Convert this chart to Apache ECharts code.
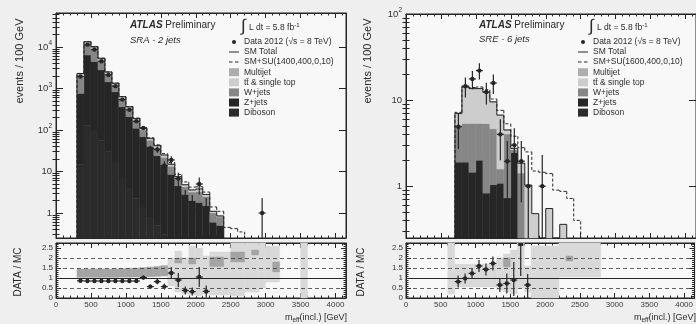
<!DOCTYPE html>
<html><head><meta charset="utf-8">
<script src="https://cdn.jsdelivr.net/npm/echarts@6/dist/echarts.min.js"></script>
<style>html,body{margin:0;padding:0;background:#efefef}#c{width:696px;height:324px}</style>
</head><body><div id="c"></div>
<script>
// ================= DATA =================
const BIN_WIDTH = 100;
const X_TICKS = [0, 500, 1000, 1500, 2000, 2500, 3000, 3500, 4000];
const LOG_LABELS = [1, 10, 100, 1000, 10000];
const RATIO_LABELS = [0, 0.5, 1, 1.5, 2, 2.5];

// ---- Left: SRA - 2 jets ----
const sraBinLo    = [300,400,500,600,700,800,900,1000,1100,1200,1300,1400,1500,1600,1700,1800,1900,2000,2100,2200,2300];
const sraDiboson  = [15,130,90,55,30,17,7,4,2.2,1.4,0.8,0.5,0.3,0.2,0.1,0.1,0.05,0.05,0.05,0.02,0.02];
const sraZjets    = [745,6270,4360,2745,1420,818,355,205,108,67.6,39.2,23.5,13.7,8.3,4.4,2.7,1.95,1.75,1.45,0.58,0.48];
const sraWjets    = [1150,5300,4400,1950,800,380,210,115,60,31,17,13.5,8,4.9,2.3,1.5,1.2,1.5,1.0,0.4,0.3];
const sraTop      = [300,1400,1100,480,200,100,50,30,16,8,4.7,3.5,2.3,1.3,0.6,0.4,0.3,0.4,0.25,0.08,0.04];
const sraMultijet = [90,300,250,120,50,25,13,8,4,2,1.3,1,0.7,0.3,0.1,0.1,0.1,0.1,0.05,0.02,0.01];
const sraSigBinLo = [300,400,500,600,700,800,900,1000,1100,1200,1300,1400,1500,1600,1700,1800,1900,2000,2100,2200,2300,2400,2500,2600];
const sraSmSu     = [2310,13420,10220,5370,2515,1350,642,367,194,113,65,44,27,16.5,8.5,5.6,4.2,4.3,3.2,1.4,1.1,0.45,0.42,0.35];
const sraDataX     = [350,450,550,650,750,850,950,1050,1150,1250,1350,1450,1550,1650,1750,1850,1950,2050,2150,2950];
const sraDataY     = [1950,11400,8700,4550,2130,1140,540,308,162,112,36,34,14,19,6.8,1.8,1.2,5.0,1.0,1.0];
const sraDataErrLo = [44,107,93,67,46,34,23,18,13,11,6,5.8,3.7,4.4,2.6,1.3,1.1,2.2,0.83,0.83];
const sraDataErrHi = [44,107,93,67,46,34,23,18,13,11,6,5.8,3.7,4.4,2.6,1.8,1.5,2.2,1.3,1.3];
const sraRatioX   = [350,450,550,650,750,850,950,1050,1150,1250,1350,1450,1550,1650,1750,1850,1950,2050,2150];
const sraRatioY   = [0.86,0.85,0.85,0.85,0.85,0.85,0.85,0.85,0.85,1.02,0.57,0.82,0.57,1.25,0.9,0.38,0.32,1.05,0.33];
const sraRatioErr = [0.03,0.02,0.02,0.02,0.02,0.03,0.04,0.05,0.07,0.1,0.1,0.13,0.15,0.3,0.35,0.2,0.2,0.5,0.3];
// ratio-panel bands (x from, x to, ratio from, ratio to)
const sraLightX0 = [1600,1700,1800,1900,2000,2100,2200,2500,2700,2900,3000,3500];
const sraLightX1 = [1700,1800,1900,2000,2100,2200,2500,2700,2900,3000,3200,3600];
const sraLightY0 = [0.6,0.3,0.2,0.15,0.1,0.2,0.15,0.1,0.3,0.5,0.8,0];
const sraLightY1 = [2.0,2.35,2.0,2.6,2.5,2.1,2.3,2.75,2.75,2.75,2.6,2.75];
const sraMidX0 = [300,400,500,600,700,800,900,1000,1100,1200,1300,1400,1500,1700,1900,2200,2500,2800,3100];
const sraMidX1 = [400,500,600,700,800,900,1000,1100,1200,1300,1400,1500,1600,1800,2000,2400,2700,2900,3200];
const sraMidY0 = [1.03,1.03,1.03,1.03,1.03,1.03,1.04,1.04,1.05,1.05,1.06,1.08,1.1,1.75,1.7,1.57,1.8,2.15,1.3];
const sraMidY1 = [1.45,1.45,1.45,1.45,1.45,1.46,1.47,1.48,1.5,1.52,1.55,1.58,1.62,2.0,2.0,2.05,2.3,2.4,1.8];

// ---- Right: SRE - 6 jets ----
const sreBinLo    = [700,800,900,1000,1100,1200,1300,1400,1500,1600,1700,1800,1900,2000,2100,2200];
const sreDiboson  = [0.05,0.05,0.05,0.05,0.05,0.04,0.03,0.03,0.05,0.02,0.01,0,0,0,0,0];
const sreZjets    = [1.85,1.85,1.4,1.95,0.78,1.0,1.05,0.7,2.4,0.2,0,0,0,0,0,0];
const sreWjets    = [3.2,3.45,3.9,3.35,4.5,3.6,0.5,3.3,0.2,1.2,0.2,0,0,0,0,0];
const sreTop      = [1.8,8.7,8.1,8.1,6.9,4.8,5.0,0.42,0.08,0.4,0.8,0.48,0,0.55,0,0.36];
const sreMultijet = [0.1,0.15,0.15,0.15,0.15,0.1,0.12,0.05,0.02,0.03,0.02,0,0,0,0,0];
const sreSigBinLo = [700,800,900,1000,1100,1200,1300,1400,1500,1600,1700,1800,1900,2000,2100,2200,2300,2400];
const sreSmSu     = [7.2,14.5,14.0,14.2,13.2,10.3,7.6,5.3,3.8,2.8,2.5,1.5,1.45,1.4,0.9,0.87,0.72,0.4];
const sreDataX     = [750,850,950,1050,1150,1250,1350,1450,1550,1650,1750,1950];
const sreDataY     = [4.9,14.5,17.6,22,12.4,15.8,4.0,1.95,3.0,1.95,1.0,1.0];
const sreDataErrLo = [2.2,3.8,4.2,4.7,3.5,4.0,2.0,1.3,1.7,1.3,0.83,0.83];
const sreDataErrHi = [2.2,3.8,4.2,4.7,3.5,4.0,2.0,1.4,1.7,1.4,1.3,1.3];
const sreRatioX     = [750,850,950,1050,1150,1250,1350,1450,1550,1650,1750];
const sreRatioY     = [0.82,0.98,1.23,1.6,1.43,1.73,0.65,0.73,0.9,2.9,0.65];
const sreRatioErrLo = [0.3,0.25,0.25,0.3,0.3,0.35,0.35,0.5,0.8,1.8,0.65];
const sreRatioErrHi = [0.3,0.25,0.25,0.3,0.3,0.35,0.35,0.5,0.9,1.0,0.55];
const sreLightX0 = [600,700,1300,1400,1500,1600,1700,1800,2200];
const sreLightX1 = [700,1300,1400,1500,1600,1700,1800,2200,2800];
const sreLightY0 = [0.2,0.55,0.4,0.3,0.2,0.5,0.3,0.0,1.05];
const sreLightY1 = [2.75,1.7,2.0,2.2,2.4,2.75,1.6,2.6,2.75];
const sreMidX0 = [1400,2300];
const sreMidX1 = [1500,2400];
const sreMidY0 = [1.55,1.85];
const sreMidY1 = [2.0,2.1];

// ================= STYLE =================
const INK = '#262626';
const FONT = '"Liberation Sans", Arial, sans-serif';
const FLOOR = 1e-3;
const COL = { Diboson:'#2b2b2b', 'Z+jets':'#262626', 'W+jets':'#868686', top:'#cdcdcd', Multijet:'#adadad', light:'#d9d9d9', mid:'#a4a4a4' };
const N_DATA = 'Data 2012 (\u221As = 8 TeV)';
const N_TOP = 't\u0074\u0304 & single top';

// ================= HELPERS =================
function stackItems(binLo, comps) {
  const out = comps.map(() => []);
  binLo.forEach((lo, i) => {
    let acc = 0;
    comps.forEach((c, k) => {
      const v = c[i];
      if (v > 0) { const b = acc > 0 ? acc : FLOOR; acc += v; out[k].push([lo, lo + BIN_WIDTH, b, acc]); }
    });
  });
  return out;
}
function totals(binLo, comps) { return binLo.map((_, i) => comps.reduce((s, c) => s + c[i], 0)); }
function outlineData(binLo, tot) {
  return binLo.map((lo, i) => [lo, lo + BIN_WIDTH, tot[i] > 0 ? tot[i] : FLOOR,
    (i > 0 && tot[i-1] > 0) ? tot[i-1] : FLOOR, i === binLo.length - 1 ? 1 : 0]);
}
function rectRenderer(color) {
  return function (params, api) {
    const a = api.coord([api.value(0), api.value(3)]);
    const b = api.coord([api.value(1), api.value(2)]);
    const r = echarts.graphic.clipRectByRect({ x: a[0], y: a[1], width: b[0] - a[0], height: b[1] - a[1] }, params.coordSys);
    if (!r) return null;
    return { type: 'rect', shape: r, style: { fill: color, stroke: color, lineWidth: 0.4 } };
  };
}
function outlineRenderer(dash, width) {
  return function (params, api) {
    const lo = api.value(0), hi = api.value(1), t = api.value(2), pt = api.value(3), last = api.value(4);
    const pts = [api.coord([lo, pt]), api.coord([lo, t]), api.coord([hi, t])];
    if (last) pts.push(api.coord([hi, FLOOR]));
    const c = echarts.graphic.clipPointsByRect(pts, params.coordSys);
    return { type: 'polyline', shape: { points: c }, style: { stroke: INK, lineWidth: width, lineDash: dash, fill: null } };
  };
}
function pointRenderer(floor, r) {
  return function (params, api) {
    const x = api.value(0), y = api.value(1), el = api.value(2), eh = api.value(3);
    const cs = params.coordSys;
    const v = echarts.graphic.clipPointsByRect([api.coord([x, y + eh]), api.coord([x, Math.max(y - el, floor)])], cs);
    const h = echarts.graphic.clipPointsByRect([api.coord([x - BIN_WIDTH / 2, y]), api.coord([x + BIN_WIDTH / 2, y])], cs);
    const c = api.coord([x, y]);
    const kids = [{ type: 'line', shape: { x1: v[0][0], y1: v[0][1], x2: v[1][0], y2: v[1][1] }, style: { stroke: INK, lineWidth: 1.2 } }];
    if (c[1] >= cs.y && c[1] <= cs.y + cs.height) {
      kids.push({ type: 'line', shape: { x1: h[0][0], y1: h[0][1], x2: h[1][0], y2: h[1][1] }, style: { stroke: INK, lineWidth: 1.2 } });
      kids.push({ type: 'circle', shape: { cx: c[0], cy: c[1], r: r }, style: { fill: INK } });
    } else {
      kids.push({ type: 'rect', shape: { x: c[0] - 2.5, y: cs.y, width: 5, height: 3 }, style: { fill: INK } });
    }
    return { type: 'group', children: kids };
  };
}
function zip(...arrs) { return arrs[0].map((_, i) => arrs.map(a => a[i])); }
function minorLogTicks(min, max) {
  const out = [];
  for (let e = -1; e <= 5; e++) for (let m = 2; m <= 9; m++) { const v = m * Math.pow(10, e); if (v > min && v < max) out.push(v); }
  return out;
}
function logFmt(v) {
  const e = Math.round(Math.log10(v));
  if (e === 0) return '1';
  if (e === 1) return '10';
  return '10{s|' + e + '}';
}

// ================= AXES =================
const grids = [
  { left: 56, top: 13, width: 290, height: 225 },
  { left: 56, top: 243, width: 290, height: 55 },
  { left: 406, top: 14, width: 290, height: 224 },
  { left: 406, top: 243, width: 290, height: 55 }
].map(g => Object.assign(g, { show: true, backgroundColor: '#f8f8f8', borderColor: INK, borderWidth: 1 }));

const xAxes = [];
[0, 1, 2, 3].forEach(g => {
  ['bottom', 'top'].forEach(pos => {
    xAxes.push({
      type: 'value', gridIndex: g, position: pos, min: 0, max: 4150, interval: 500,
      axisLine: { show: true, onZero: false, lineStyle: { color: INK, width: 1 } },
      axisTick: { show: true, inside: true, length: 5, lineStyle: { color: INK }, customValues: X_TICKS },
      minorTick: { show: true, splitNumber: 5, length: 2.5, lineStyle: { color: INK } },
      axisLabel: { show: pos === 'bottom' && (g === 1 || g === 3), customValues: X_TICKS, fontSize: 8, color: '#3a3a3a', margin: 3, fontFamily: FONT,
        formatter: v => String(v) },
      splitLine: { show: false }
    });
  });
});

const yAxes = [];
const yIdx = {};
function logAxes(g, min, max) {
  yIdx[g] = yAxes.length;
  const minors = minorLogTicks(min, max);
  const decades = LOG_LABELS.filter(v => v >= min && v <= max);
  ['left', 'right'].forEach(pos => {
    yAxes.push({
      type: 'log', logBase: 10, gridIndex: g, position: pos, min: min, max: max,
      axisLine: { show: true, onZero: false, lineStyle: { color: INK } },
      axisTick: { show: true, inside: true, length: 7, customValues: decades, lineStyle: { color: INK } },
      axisLabel: { show: pos === 'left', customValues: decades, formatter: logFmt, fontSize: 9.5, color: '#333', fontFamily: FONT, margin: 4,
        rich: { s: { fontSize: 6.5, padding: [0, 0, 7, 0], fontFamily: FONT, color: '#333' } } },
      splitLine: { show: false }
    });
    yAxes.push({
      type: 'log', logBase: 10, gridIndex: g, position: pos, min: min, max: max,
      axisLine: { show: false },
      axisTick: { show: true, inside: true, length: 3.5, customValues: minors, lineStyle: { color: INK } },
      axisLabel: { show: false }, splitLine: { show: false }
    });
  });
}
function ratioAxes(g) {
  yIdx[g] = yAxes.length;
  ['left', 'right'].forEach(pos => {
    yAxes.push({
      type: 'value', gridIndex: g, position: pos, min: 0, max: 2.75, interval: 0.5,
      axisLine: { show: true, onZero: false, lineStyle: { color: INK } },
      axisTick: { show: true, inside: true, length: 5, customValues: RATIO_LABELS, lineStyle: { color: INK } },
      minorTick: { show: true, splitNumber: 5, length: 2.5, lineStyle: { color: INK } },
      axisLabel: { show: pos === 'left', customValues: RATIO_LABELS, fontSize: 8, color: '#333', fontFamily: FONT, margin: 3 },
      splitLine: { show: false }
    });
  });
}
logAxes(0, 0.25, 66000);
ratioAxes(1);
logAxes(2, 0.25, 100);
ratioAxes(3);

// ================= SERIES =================
const series = [];
function mainPanel(g, binLo, comps, sigLo, smsu, sigName, dx, dy, dlo, dhi) {
  const names = ['Diboson', 'Z+jets', 'W+jets', N_TOP, 'Multijet'];
  const colors = [COL.Diboson, COL['Z+jets'], COL['W+jets'], COL.top, COL.Multijet];
  const st = stackItems(binLo, comps);
  st.forEach((items, k) => series.push({
    type: 'custom', name: names[k], xAxisIndex: 2 * g, yAxisIndex: yIdx[g], z: 2,
    itemStyle: { color: colors[k] }, renderItem: rectRenderer(colors[k]), data: items,
    encode: { x: [0, 1], y: [2, 3] }, silent: true
  }));
  series.push({ type: 'custom', name: 'SM Total', xAxisIndex: 2 * g, yAxisIndex: yIdx[g], z: 3, itemStyle: { color: INK },
    renderItem: outlineRenderer(null, 1), data: outlineData(binLo, totals(binLo, comps)), encode: { x: [0, 1], y: [2, 3] }, silent: true });
  series.push({ type: 'custom', name: sigName, xAxisIndex: 2 * g, yAxisIndex: yIdx[g], z: 3, itemStyle: { color: INK },
    renderItem: outlineRenderer([3, 2], 1), data: outlineData(sigLo, smsu), encode: { x: [0, 1], y: [2, 3] }, silent: true });
  series.push({ type: 'custom', name: N_DATA, xAxisIndex: 2 * g, yAxisIndex: yIdx[g], z: 4, itemStyle: { color: INK },
    renderItem: pointRenderer(FLOOR, 2.2), data: zip(dx, dy, dlo, dhi), encode: { x: 0, y: 1 }, silent: true });
}
function ratioPanel(g, lx0, lx1, ly0, ly1, mx0, mx1, my0, my1, rx, ry, rlo, rhi) {
  series.push({ type: 'custom', name: 'ratio-light', xAxisIndex: 2 * g, yAxisIndex: yIdx[g], z: 2,
    renderItem: rectRenderer(COL.light), data: zip(lx0, lx1, ly0, ly1), encode: { x: [0, 1], y: [2, 3] }, silent: true });
  series.push({ type: 'custom', name: 'ratio-mid', xAxisIndex: 2 * g, yAxisIndex: yIdx[g], z: 2,
    renderItem: rectRenderer(COL.mid), data: zip(mx0, mx1, my0, my1), encode: { x: [0, 1], y: [2, 3] }, silent: true });
  series.push({ type: 'line', name: 'ratio-lines', xAxisIndex: 2 * g, yAxisIndex: yIdx[g], data: [], z: 3, silent: true,
    markLine: { silent: true, symbol: 'none', label: { show: false }, animation: false,
      lineStyle: { color: '#3a3a3a', width: 0.8, type: [4, 3] },
      data: [{ yAxis: 0.5 }, { yAxis: 1.5 }, { yAxis: 2 }, { yAxis: 1, lineStyle: { type: 'solid', width: 1, color: INK } }] } });
  series.push({ type: 'custom', name: 'ratio-data', xAxisIndex: 2 * g, yAxisIndex: yIdx[g], z: 4,
    renderItem: pointRenderer(0, 2.2), data: zip(rx, ry, rlo, rhi), encode: { x: 0, y: 1 }, silent: true });
}
mainPanel(0, sraBinLo, [sraDiboson, sraZjets, sraWjets, sraTop, sraMultijet], sraSigBinLo, sraSmSu, 'SM+SU(1400,400,0,10)',
  sraDataX, sraDataY, sraDataErrLo, sraDataErrHi);
ratioPanel(1, sraLightX0, sraLightX1, sraLightY0, sraLightY1, sraMidX0, sraMidX1, sraMidY0, sraMidY1,
  sraRatioX, sraRatioY, sraRatioErr, sraRatioErr);
mainPanel(2, sreBinLo, [sreDiboson, sreZjets, sreWjets, sreTop, sreMultijet], sreSigBinLo, sreSmSu, 'SM+SU(1600,400,0,10)',
  sreDataX, sreDataY, sreDataErrLo, sreDataErrHi);
ratioPanel(3, sreLightX0, sreLightX1, sreLightY0, sreLightY1, sreMidX0, sreMidX1, sreMidY0, sreMidY1,
  sreRatioX, sreRatioY, sreRatioErrLo, sreRatioErrHi);

// ================= LEGENDS =================
const ICON_DOT = 'path://M0,0M10,8M3,4a2,2 0 1 0 4,0a2,2 0 1 0 -4,0Z';
const ICON_LINE = 'path://M0,0M10,8M0,3.5L10,3.5L10,4.5L0,4.5Z';
const ICON_DASH = 'path://M0,0M10,8M0,3.5L3.5,3.5L3.5,4.5L0,4.5ZM6,3.5L9.5,3.5L9.5,4.5L6,4.5Z';
function legendDef(left, sigName) {
  return {
    left: left, top: 37, padding: 0, orient: 'vertical', itemWidth: 10, itemHeight: 8, itemGap: 0.3, selectedMode: false,
    textStyle: { fontSize: 8.5, lineHeight: 9.8, color: '#2e2e2e', fontFamily: FONT },
    data: [
      { name: N_DATA, icon: ICON_DOT, itemStyle: { color: INK } },
      { name: 'SM Total', icon: ICON_LINE, itemStyle: { color: INK } },
      { name: sigName, icon: ICON_DASH, itemStyle: { color: INK } },
      { name: 'Multijet', icon: 'rect', itemStyle: { color: COL.Multijet } },
      { name: N_TOP, icon: 'rect', itemStyle: { color: COL.top } },
      { name: 'W+jets', icon: 'rect', itemStyle: { color: COL['W+jets'] } },
      { name: 'Z+jets', icon: 'rect', itemStyle: { color: COL['Z+jets'] } },
      { name: 'Diboson', icon: 'rect', itemStyle: { color: COL.Diboson } }
    ]
  };
}

// ================= TEXT =================
function txt(x, y, text, o) {
  return { type: 'text', x: x, y: y, style: Object.assign({ text: text, fill: '#2a2a2a', fontFamily: FONT, fontSize: 9, verticalAlign: 'middle' }, o || {}) };
}
function rot(x, y, text, size) {
  return { type: 'text', x: x, y: y, rotation: Math.PI / 2,
    style: { text: text, fill: '#2a2a2a', fontFamily: FONT, fontSize: size, align: 'center', verticalAlign: 'middle' } };
}
const atlasRich = { a: { fontWeight: 'bold', fontStyle: 'italic', fontSize: 10, fontFamily: FONT, fill: '#2a2a2a' } };
const lumiRich = { u: { fontSize: 6, padding: [0, 0, 6, 0], fontFamily: FONT, fill: '#2a2a2a' } };
const subRich = { b: { fontSize: 6.5, padding: [5, 0, 0, 0], fontFamily: FONT, fill: '#2a2a2a' } };
const graphics = [
  txt(130, 25, '{a|ATLAS} Preliminary', { fontSize: 10, rich: atlasRich }),
  txt(130, 40, 'SRA - 2 jets', { fontStyle: 'italic', fontSize: 9.5 }),
  txt(241, 26, '\u222B', { fontSize: 17 }),
  txt(249, 28, 'L dt = 5.8 fb{u|-1}', { fontSize: 8.5, rich: lumiRich }),
  txt(479, 25, '{a|ATLAS} Preliminary', { fontSize: 10, rich: atlasRich }),
  txt(479, 39, 'SRE - 6 jets', { fontStyle: 'italic', fontSize: 9.5 }),
  txt(589, 26, '\u222B', { fontSize: 17 }),
  txt(597, 28, 'L dt = 5.8 fb{u|-1}', { fontSize: 8.5, rich: lumiRich }),
  rot(20, 61, 'events / 100 GeV', 11),
  rot(368, 61, 'events / 100 GeV', 11),
  rot(18, 272, 'DATA / MC', 10),
  rot(361, 272, 'DATA / MC', 10),
  txt(347, 318, 'm{b|eff}(incl.) [GeV]', { fontSize: 9, align: 'right', rich: subRich }),
  txt(696, 318, 'm{b|eff}(incl.) [GeV]', { fontSize: 9, align: 'right', rich: subRich })
];

const chart = echarts.init(document.getElementById('c'), null, { renderer: 'canvas' });
chart.setOption({
  backgroundColor: '#efefef',
  animation: false,
  grid: grids,
  xAxis: xAxes,
  yAxis: yAxes,
  legend: [legendDef(229, 'SM+SU(1400,400,0,10)'), legendDef(578, 'SM+SU(1600,400,0,10)')],
  series: series,
  graphic: graphics
});
</script>
</body></html>
